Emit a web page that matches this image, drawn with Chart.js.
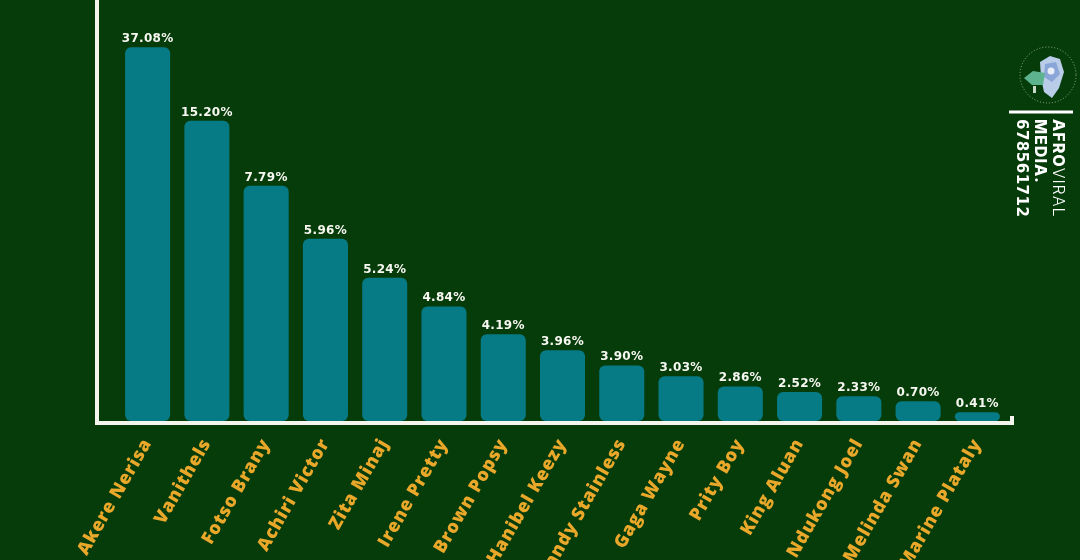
<html>
<head>
	<title>Vote share</title>
	<meta charset="utf-8" />
	<script type="text/javascript" src="https://cdn.jsdelivr.net/npm/chart.js@4.4.0/dist/chart.umd.min.js"></script>
	<style>
		body { margin: 0; background: #063c0a; }
		canvas { display: block; }
	</style>
</head>
<body>
	<canvas id="canvas" width="1080" height="560"></canvas>
	<script type="text/javascript">
		var names = ["Akere Nerisa", "Vanithels", "Fotso Brany", "Achiri Victor", "Zita Minaj",
			"Irene Pretty", "Brown Popsy", "Hanibel Keezy", "Sandy Stainless", "Gaga Wayne",
			"Prity Boy", "King Aluan", "Ndukong Joel", "Melinda Swan", "Marine Plataly"];
		// percentages printed above the bars
		var percents = [37.08, 15.20, 7.79, 5.96, 5.24, 4.84, 4.19, 3.96, 3.90, 3.03, 2.86, 2.52, 2.33, 0.70, 0.41];
		// bar heights as drawn in the picture (not proportional to the percentages)
		var barHeights = [88.8, 71.3, 55.9, 43.3, 34.0, 27.2, 20.6, 16.8, 13.2, 10.6, 8.2, 6.9, 5.9, 4.7, 2.1];

		var bg = "#063c0a";

		var bgPlugin = {
			id: "bg",
			beforeDraw: function(chart) {
				var ctx = chart.ctx;
				ctx.fillStyle = bg;
				ctx.fillRect(0, 0, chart.width, chart.height);
				// wider tracking for the tick labels
				ctx.letterSpacing = "0.8px";
			}
		};

		var valueLabels = {
			id: "valueLabels",
			afterDatasetsDraw: function(chart) {
				var ctx = chart.ctx;
				var meta = chart.getDatasetMeta(0);
				ctx.save();
				ctx.fillStyle = "#f8f8f2";
				ctx.font = "bold 12px 'DejaVu Sans'";
				ctx.letterSpacing = "0.3px";
				ctx.textAlign = "center";
				ctx.textBaseline = "alphabetic";
				meta.data.forEach(function(bar, i) {
					ctx.fillText(percents[i].toFixed(2) + "%", bar.x, bar.y - 5);
				});
				ctx.restore();
			}
		};

		var axisLines = {
			id: "axisLines",
			afterDraw: function(chart) {
				var ctx = chart.ctx;
				var a = chart.chartArea;
				var x0 = a.left - 21;
				var y0 = a.bottom + 2;
				var x1 = a.right + 5;
				ctx.save();
				ctx.strokeStyle = "#f4f6ee";
				ctx.lineWidth = 4;
				ctx.beginPath();
				ctx.moveTo(x0, 0);
				ctx.lineTo(x0, y0);
				ctx.lineTo(x1, y0);
				ctx.lineTo(x1, y0 - 7);
				ctx.stroke();
				ctx.restore();
			}
		};

		var brand = {
			id: "brand",
			afterDraw: function(chart) {
				var ctx = chart.ctx;
				ctx.save();
				// dotted circle
				ctx.strokeStyle = "rgba(220,230,210,0.8)";
				ctx.lineWidth = 0.8;
				ctx.setLineDash([1, 2]);
				ctx.beginPath();
				ctx.arc(1048, 75, 28, 0, Math.PI * 2);
				ctx.stroke();
				ctx.setLineDash([]);
				// crystal flower
				ctx.fillStyle = "#b9cde8";
				ctx.beginPath();
				ctx.moveTo(1040, 62); ctx.lineTo(1050, 56); ctx.lineTo(1060, 59);
				ctx.lineTo(1064, 72); ctx.lineTo(1059, 88); ctx.lineTo(1052, 98);
				ctx.lineTo(1044, 92); ctx.lineTo(1041, 78); ctx.closePath();
				ctx.fill();
				ctx.fillStyle = "#8aa6d8";
				ctx.beginPath();
				ctx.moveTo(1045, 64); ctx.lineTo(1056, 62); ctx.lineTo(1060, 74);
				ctx.lineTo(1052, 82); ctx.lineTo(1044, 77); ctx.closePath();
				ctx.fill();
				ctx.fillStyle = "#e8eef8";
				ctx.beginPath();
				ctx.arc(1051, 71, 3.5, 0, Math.PI * 2);
				ctx.fill();
				ctx.fillStyle = "#5db38d";
				ctx.beginPath();
				ctx.moveTo(1024, 78); ctx.lineTo(1033, 71); ctx.lineTo(1045, 73);
				ctx.lineTo(1043, 85); ctx.lineTo(1032, 85); ctx.closePath();
				ctx.fill();
				ctx.fillStyle = "#c9d8c8";
				ctx.fillRect(1033, 86, 3, 7);

				// separator
				ctx.fillStyle = "#ffffff";
				ctx.fillRect(1009, 110.5, 64, 3);

				// rotated brand text
				ctx.translate(1053, 119);
				ctx.rotate(Math.PI / 2);
				ctx.textBaseline = "alphabetic";
				ctx.textAlign = "left";
				ctx.fillStyle = "#ffffff";
				ctx.letterSpacing = "1px";
				ctx.font = "800 16px Inter";
				ctx.fillText("AFRO", 0, 0);
				var w = ctx.measureText("AFRO").width;
				ctx.font = "300 16px Inter";
				ctx.fillText("VIRAL", w, 0);
				ctx.font = "800 16px Inter";
				ctx.fillText("MEDIA.", 0, 18);
				ctx.font = "bold 15px 'DejaVu Sans'";
				ctx.letterSpacing = "0.5px";
				ctx.fillText("678561712", 0, 36);
				ctx.restore();
			}
		};

		var ctx = document.getElementById("canvas").getContext("2d");

		var chart = new Chart(ctx, {
			type: "bar",
			data: {
				labels: names,
				datasets: [{
					data: barHeights,
					backgroundColor: "#077b85",
					borderRadius: 6,
					borderSkipped: false,
					barPercentage: 0.76,
					categoryPercentage: 1
				}]
			},
			options: {
				responsive: false,
				animation: false,
				layout: { padding: { left: 118, right: 73, top: 0, bottom: 0 } },
				plugins: {
					legend: { display: false },
					tooltip: { enabled: false }
				},
				scales: {
					y: { display: false, min: 0, max: 100 },
					x: {
						grid: { display: false },
						border: { display: false },
						ticks: {
							color: "#e9a82a",
							font: { family: "'Open Sans'", weight: 800, size: 18 },
							minRotation: 60,
							maxRotation: 60,
							autoSkip: false,
							padding: 6
						},
						afterFit: function(scale) {
							scale.height = 139;
						}
					}
				}
			},
			plugins: [bgPlugin, valueLabels, axisLines, brand]
		});
	</script>
</body>
</html>
